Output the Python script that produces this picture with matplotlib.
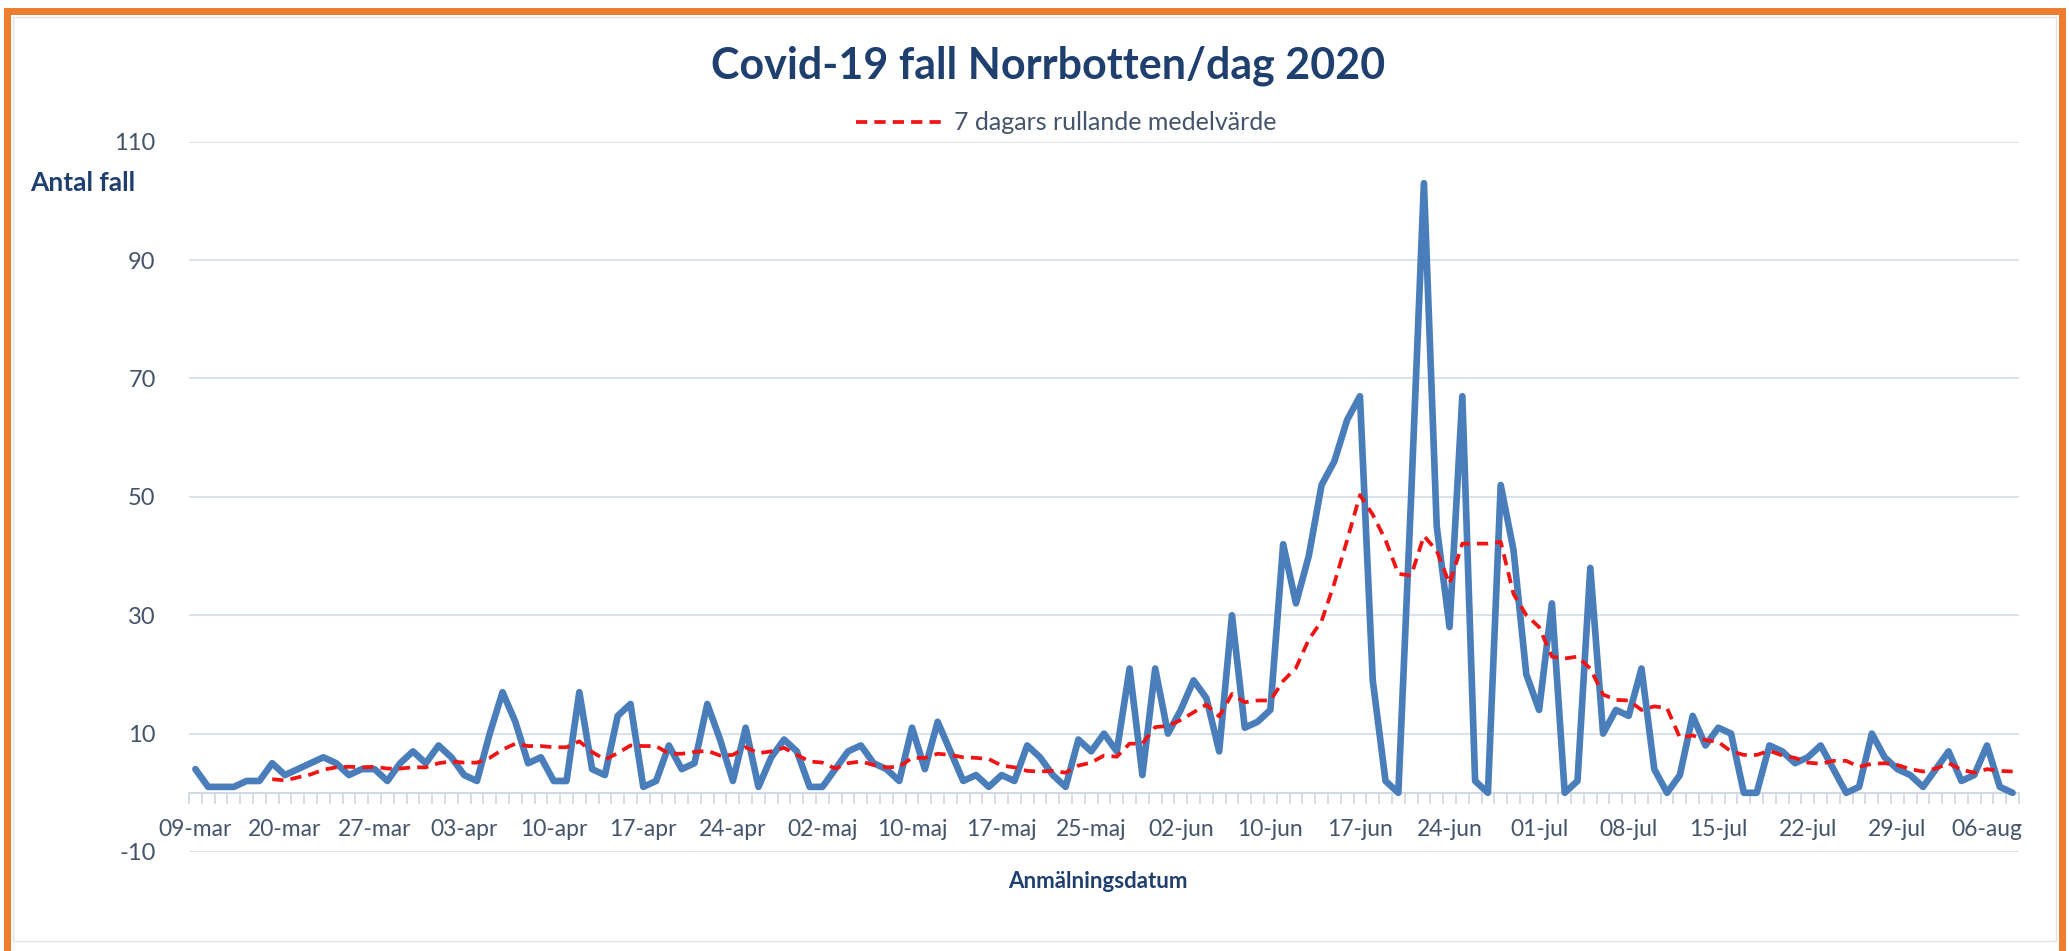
import matplotlib

matplotlib.use("Agg")
import matplotlib.pyplot as plt
from matplotlib.patches import Rectangle

# daily reported cases, one value per category on the x axis
cases = [
    4, 1, 1, 1, 2, 2, 5, 3, 4, 5,
    6, 5, 3, 4, 4, 2, 5, 7, 5, 8,
    6, 3, 2, 10, 17, 12, 5, 6, 2, 2,
    17, 4, 3, 13, 15, 1, 2, 8, 4, 5,
    15, 9, 2, 11, 1, 6, 9, 7, 1, 1,
    4, 7, 8, 5, 4, 2, 11, 4, 12, 7,
    2, 3, 1, 3, 2, 8, 6, 3, 1, 9,
    7, 10, 7, 21, 3, 21, 10, 14, 19, 16,
    7, 30, 11, 12, 14, 42, 32, 40, 52, 56,
    63, 67, 19, 2, 0, 50, 103, 45, 28, 67,
    2, 0, 52, 41, 20, 14, 32, 0, 2, 38,
    10, 14, 13, 21, 4, 0, 3, 13, 8, 11,
    10, 0, 0, 8, 7, 5, 6, 8, 4, 0,
    1, 10, 6, 4, 3, 1, 4, 7, 2, 3,
    8, 1, 0,
]

# 7-day rolling mean (starts at the 7th day)
rolling7 = [
    2.3, 2.1, 2.6, 3.1, 3.9, 4.3, 4.4, 4.3, 4.4, 4.1,
    4.1, 4.3, 4.3, 5.0, 5.3, 5.1, 5.1, 5.9, 7.3, 8.3,
    7.9, 7.9, 7.7, 7.7, 8.7, 6.9, 5.6, 6.7, 8.0, 7.9,
    7.9, 6.6, 6.6, 6.9, 7.1, 6.3, 6.4, 7.7, 6.7, 7.0,
    7.6, 6.4, 5.3, 5.1, 4.1, 5.0, 5.3, 4.7, 4.3, 4.4,
    5.9, 5.9, 6.6, 6.4, 6.0, 5.9, 5.7, 4.6, 4.3, 3.7,
    3.6, 3.7, 3.4, 4.6, 5.1, 6.3, 6.1, 8.3, 8.3, 11.1,
    11.3, 12.3, 13.6, 14.9, 12.9, 16.7, 15.3, 15.6, 15.6, 18.9,
    21.1, 25.9, 29.0, 35.4, 42.7, 50.3, 47.0, 42.7, 37.0, 36.7,
    43.4, 40.9, 35.3, 42.1, 42.1, 42.1, 42.4, 33.6, 30.0, 28.0,
    23.0, 22.7, 23.0, 21.0, 16.6, 15.7, 15.6, 14.0, 14.6, 14.3,
    9.3, 9.7, 8.9, 8.6, 7.0, 6.4, 6.4, 7.1, 6.3, 5.9,
    5.1, 4.9, 5.4, 5.4, 4.4, 4.9, 5.0, 4.7, 4.0, 3.6,
    4.1, 5.0, 3.9, 3.4, 4.0, 3.7, 3.6,
]

date_labels = [
    "09-mar", "20-mar", "27-mar", "03-apr", "10-apr", "17-apr", "24-apr",
    "02-maj", "10-maj", "17-maj", "25-maj", "02-jun", "10-jun", "17-jun",
    "24-jun", "01-jul", "08-jul", "15-jul", "22-jul", "29-jul", "06-aug",
]
y_ticks = [-10, 10, 30, 50, 70, 90, 110]

plt.rcParams["font.family"] = ["Lato", "DejaVu Sans"]
plt.rcParams["axes.unicode_minus"] = False

W, H = 2069, 951
TEXT = "#44546A"
NAVY = "#1F3F6E"
GRID = "#D9DFE8"

fig = plt.figure(figsize=(W / 100, H / 100), dpi=100)
fig.patch.set_facecolor("white")

# orange frame and the light inner chart border
orange = "#ED7D31"
for x0, y0, w, h in [(4, 8, 2062, 7), (4, 8, 7, 943), (2059, 8, 7, 943)]:
    fig.add_artist(Rectangle((x0 / W, 1 - (y0 + h) / H), w / W, h / H,
                             transform=fig.transFigure, color=orange, lw=0))
fig.add_artist(Rectangle((13 / W, 1 - 941 / H), 2043 / W, 924 / H,
                         transform=fig.transFigure, fill=False,
                         edgecolor="#E3E3E3", lw=1))

ax = fig.add_axes([189 / W, 1 - 852 / H, (2019 - 189) / W, (852 - 141.7) / H])
ax.set_facecolor("none")

x = list(range(len(cases)))
ax.plot(x, cases, color="#4A7EBB", lw=4.8, solid_joinstyle="round",
        solid_capstyle="round", zorder=3)
x_ma = list(range(len(cases) - len(rolling7), len(cases)))
ax.plot(x_ma, rolling7, color="#F01414", lw=2.7, ls=(0, (3, 1.9)), zorder=4,
        label="7 dagars rullande medelvärde")

ax.set_xlim(-0.5, len(cases) - 0.5)
ax.set_ylim(-10, 110)
ax.set_yticks(y_ticks)
ax.grid(axis="y", color=GRID, lw=1.3)
ax.set_axisbelow(True)
for s in ["top", "right", "left"]:
    ax.spines[s].set_visible(False)
ax.spines["bottom"].set_position(("data", 0))
ax.spines["bottom"].set_color("#CDD5E1")
ax.spines["bottom"].set_linewidth(1.3)

ax.set_xticks(range(0, len(cases), 7))
ax.set_xticklabels(date_labels)
ax.set_xticks([i - 0.5 for i in range(len(cases) + 1)], minor=True)
ax.tick_params(axis="x", which="major", length=0, pad=19, labelsize=16.5,
               labelcolor=TEXT)
ax.tick_params(axis="x", which="minor", length=8, width=1.2,
               color="#CDD5E1", direction="out")
ax.tick_params(axis="y", length=0, pad=24, labelsize=17, labelcolor=TEXT)

fig.legend(loc="center", bbox_to_anchor=(1066 / W, 1 - 123 / H),
           frameon=False, fontsize=18, handlelength=3.6, handletextpad=0.3,
           borderpad=0, labelcolor=TEXT)

fig.text(1048 / W, 1 - 66 / H, "Covid-19 fall Norrbotten/dag 2020",
         ha="center", va="center", fontsize=31, fontweight="bold", color=NAVY)
fig.text(30 / W, 1 - 183 / H, "Antal fall", ha="left", va="center",
         fontsize=19, fontweight="bold", color=NAVY)
fig.text(1098 / W, 1 - 881 / H, "Anmälningsdatum", ha="center", va="center",
         fontsize=16, fontweight="bold", color=NAVY)

fig.savefig("out.png", dpi=100)
